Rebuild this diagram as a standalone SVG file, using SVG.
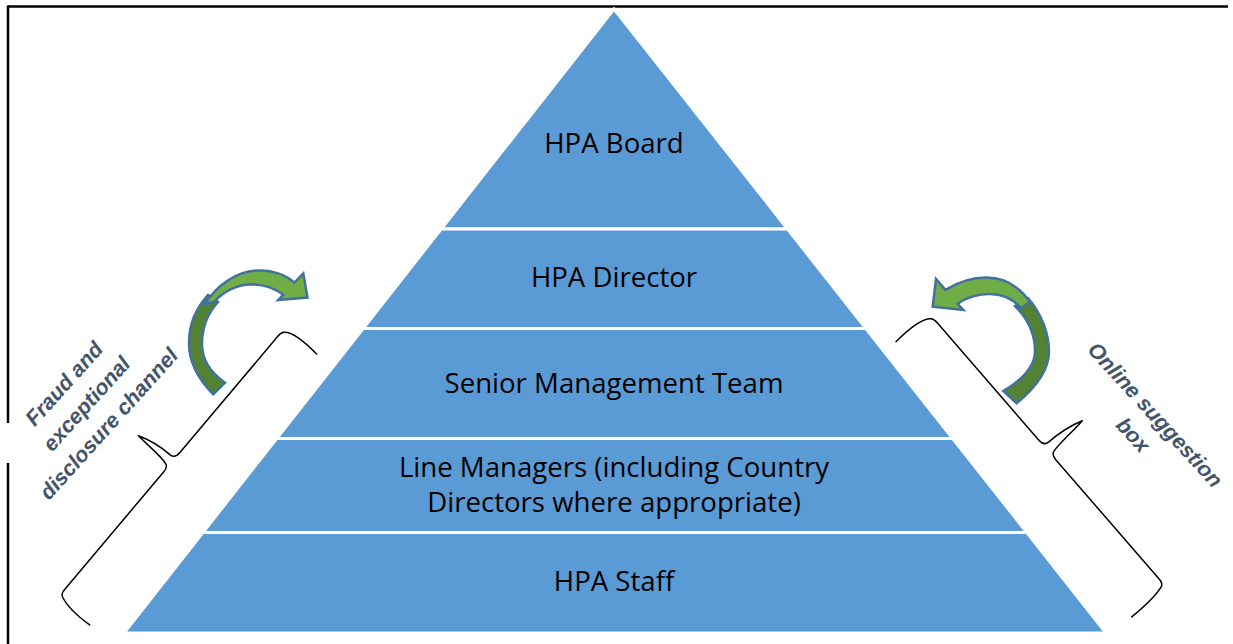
<svg xmlns="http://www.w3.org/2000/svg" width="1233" height="644" viewBox="0 0 1233 644">
  <style>
    .band { fill: #5B9BD5; stroke: #FFFFFF; stroke-width: 3; stroke-linejoin: miter; }
    .lbl { font-family: "Open Sans", "Liberation Sans", sans-serif; font-size: 27.6px; fill: #000000; text-anchor: middle; }
    .side { font-family: "Liberation Sans", Arial, sans-serif; font-size: 21.5px; font-weight: bold; font-style: italic; fill: #44546A; text-anchor: middle; }
    .frame { stroke: #000000; stroke-width: 2.5; fill: none; }
    .brace { stroke: #000000; stroke-width: 1.5; fill: none; stroke-linejoin: round; stroke-linecap: round; }
    .arrow-back { fill: #548235; stroke: #41719C; stroke-width: 2.5; stroke-linejoin: miter; }
    .arrow-front { fill: #70AD47; stroke: #41719C; stroke-width: 2.5; stroke-linejoin: miter; }
  </style>
  <rect width="1233" height="644" fill="#FFFFFF"/>

  <!-- page frame: top rule and broken left rule -->
  <g id="frame">
    <line class="frame" x1="8" y1="6.5" x2="1228" y2="6.5"/>
    <line class="frame" x1="8" y1="5.5" x2="8" y2="423"/>
    <line class="frame" x1="8" y1="463" x2="8" y2="644"/>
  </g>

  <!-- pyramid tiers -->
  <g id="tier-board">
    <polygon class="band" points="614,9 787.5,229 441.2,229"/>
    <text class="lbl" x="614" y="153">HPA Board</text>
  </g>
  <g id="tier-director">
    <polygon class="band" points="441.2,229 787.5,229 865.9,328.5 363.1,328.5"/>
    <text class="lbl" x="614" y="287">HPA Director</text>
  </g>
  <g id="tier-smt">
    <polygon class="band" points="363.1,328.5 865.9,328.5 952.7,438.5 276.7,438.5"/>
    <text class="lbl" x="614" y="393">Senior Management Team</text>
  </g>
  <g id="tier-line-managers">
    <polygon class="band" points="276.7,438.5 952.7,438.5 1026.8,532.5 202.9,532.5"/>
    <text class="lbl" x="614" y="477">Line Managers (including Country</text>
    <text class="lbl" x="614" y="512">Directors where appropriate)</text>
  </g>
  <g id="tier-staff">
    <polygon class="band" points="202.9,532.5 1026.8,532.5 1106,633 124,633"/>
    <text class="lbl" x="614" y="591">HPA Staff</text>
  </g>

  <!-- side channels: braces and curved arrows -->
  <g id="connectors">
    <path class="brace" transform="translate(281.7,331.7) rotate(40.1)"
          d="M 41,-5.5 C 25,-7 8,-7 2,-1 C 0,1 0,3 0,6 L 0,158 C 0,164 -2,166 -6,166 C -18,166 -32,168 -42.6,172 C -30,173 -8,173 -3,176 C -1,177 0,179 0,183 L 0,335 C 0,340 0,342 3,344 C 12,348 28,349 42,348"/>
    <path class="brace" transform="translate(933.3,318.3) rotate(-40.9) scale(-1,1)"
          d="M 43.5,-6.7 C 25,-8 8,-7 2,-1 C 0,1 0,3 0,6 L 0,161 C 0,167 -2,169 -6,169 C -18,169 -34,171 -45.6,175 C -32,177 -8,177 -3,180 C -1,181 0,183 0,187 L 0,343 C 0,348 0,350 3,352 C 12,355 30,356 45.5,355.6"/>

    <g id="arrow-left">
      <path class="arrow-back" d="M 213.3,394.3 C 198,379 189,361 189,343 C 189,324 196,308 208,295 L 218,302 C 208,313 202,328 202,344 C 202,360 211,373 225,382.7 Z"/>
      <path class="arrow-front" d="M 205,304 C 216,286 236,271 258,270.5 C 274,270 287,276 294.5,282.6 L 303.3,273.3 L 307.5,297.5 L 278.3,300 L 283.3,294.7 C 273,287 261,284 249,284.5 C 236,285 223,292 214,302 Z"/>
    </g>
    <g id="arrow-right">
      <path class="arrow-back" d="M 1016.7,403.3 C 1035,388 1049,370 1049,351.7 C 1049,333 1041,313 1028,298 L 1015,306 C 1027,318 1035,334 1035,351 C 1035,366 1022,380 1003.3,391 Z"/>
      <path class="arrow-front" d="M 1030,302 C 1018,285 1003,277.5 986.7,277.5 C 972,277.5 958,282 945.5,289.9 L 936,279 L 932.7,306.7 L 963.3,310 L 957.6,303.8 C 967,297 978,294 990,294 C 1002,294 1013,299 1021,308 Z"/>
    </g>
  </g>

  <!-- channel captions -->
  <g id="label-fraud" transform="translate(86.7,404) rotate(-48)">
    <text class="side" x="0" y="-23">Fraud and</text>
    <text class="side" x="0" y="7">exceptional</text>
    <text class="side" x="0" y="37">disclosure channel</text>
  </g>
  <g id="label-online" transform="translate(1155,415) rotate(47.5)">
    <text class="side" x="0" y="7">Online suggestion</text>
    <text class="side" x="0" y="37">box</text>
  </g>
</svg>
